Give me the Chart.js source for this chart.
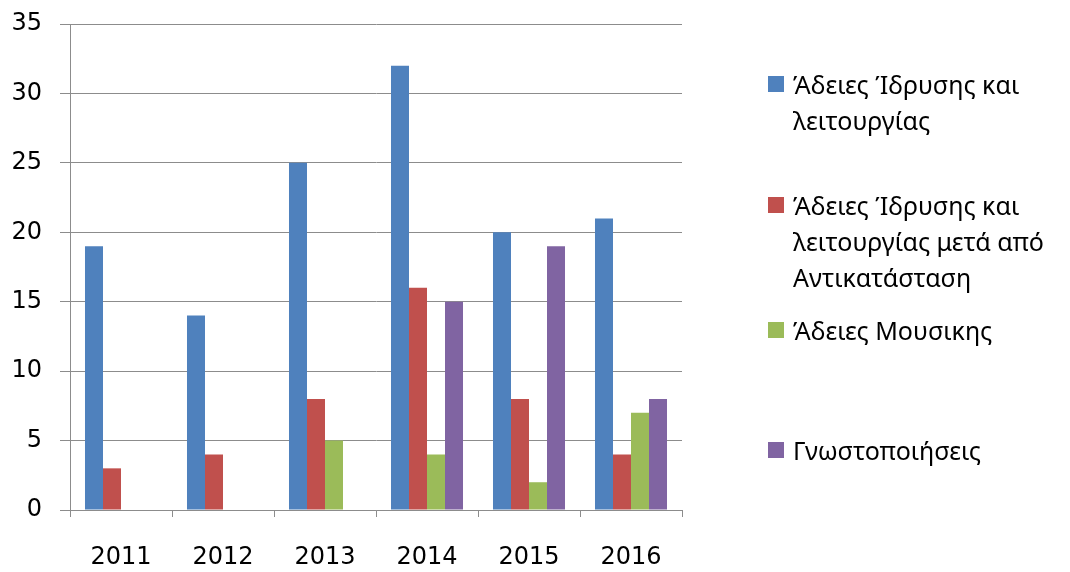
<!DOCTYPE html>
<html>
<head>
<meta charset="utf-8">
<script src="https://cdn.jsdelivr.net/npm/chart.js@4/dist/chart.umd.min.js"></script>
<style>
  html, body { margin: 0; padding: 0; background: #fff; }
  #wrap { position: relative; width: 1070px; height: 572px; }
  #legend { position: absolute; left: 768px; top: 0; font-family: "Noto Sans", sans-serif; font-size: 25px; color: #000; }
  .lg-item { position: absolute; left: 0; display: flex; align-items: flex-start; white-space: nowrap; }
  .lg-box { width: 16px; height: 16px; margin-top: 10px; margin-right: 9px; flex: none; }
  .lg-text { line-height: 36px; }
</style>
</head>
<body>
<div id="wrap">
  <canvas id="chart" width="1070" height="572"></canvas>
  <div id="legend"></div>
</div>
<script>
// Data
const years = ["2011", "2012", "2013", "2014", "2015", "2016"];
const seriesNames = [
  ["Άδειες Ίδρυσης και", "λειτουργίας"],
  ["Άδειες Ίδρυσης και", "λειτουργίας μετά από", "Αντικατάσταση"],
  ["Άδειες Μουσικης"],
  ["Γνωστοποιήσεις"],
];
const idrysi       = [19, 14, 25, 32, 20, 21];
const antikatastasi = [3, 4, 8, 16, 8, 4];
const mousikis     = [null, null, 5, 4, 2, 7];
const gnostopoiiseis = [null, null, null, 15, 19, 8];
const yTicks = [0, 5, 10, 15, 20, 25, 30, 35];

const COLORS = ["#4F81BD", "#C0504D", "#9BBB59", "#8064A2"];
const FONT = "'DejaVu Sans', sans-serif";
const GRID = "#8c8c8c";

const values = [idrysi, antikatastasi, mousikis, gnostopoiiseis];
const datasets = values.map((data, i) => ({
  label: seriesNames[i].join(" "),
  data,
  backgroundColor: COLORS[i],
  borderWidth: 0,
  barPercentage: 1,
  categoryPercentage: 0.706,
}));

const chart = new Chart(document.getElementById("chart"), {
  type: "bar",
  data: { labels: years, datasets },
  options: {
    responsive: false, animation: false,
    layout: { padding: { top: 24, right: 388, bottom: 0, left: 0 } },
    plugins: { legend: { display: false }, tooltip: { enabled: false } },
    scales: {
      x: {
        grid: { display: true, drawOnChartArea: false, offset: true, color: GRID, tickLength: 7, lineWidth: 1 },
        border: { color: GRID, width: 1 },
        ticks: { color: "#000", font: { size: 24, family: FONT }, padding: 26 },
        afterFit: (s) => { s.height = 62; s.paddingLeft = 0; s.paddingRight = 0; },
      },
      y: {
        min: 0, max: 35,
        afterBuildTicks: (s) => { s.ticks = yTicks.map(v => ({ value: v })); },
        grid: { color: GRID, tickLength: 10, lineWidth: 1 },
        border: { color: GRID, width: 1 },
        ticks: { color: "#000", font: { size: 24, family: FONT }, padding: 18 },
        afterFit: (s) => { s.width = 70; s.paddingTop = 0; s.paddingBottom = 0; },
      },
    },
  },
});

// Legend with Excel-like wrapped entries
const legendTops = [66, 187, 312, 432];
const legend = document.getElementById("legend");
chart.data.datasets.forEach((ds, i) => {
  const item = document.createElement("div");
  item.className = "lg-item";
  item.style.top = legendTops[i] + "px";
  item.innerHTML = `<div class="lg-box" style="background:${ds.backgroundColor}"></div>` +
    `<div class="lg-text">${seriesNames[i].join("<br>")}</div>`;
  legend.appendChild(item);
});
</script>
</body>
</html>
